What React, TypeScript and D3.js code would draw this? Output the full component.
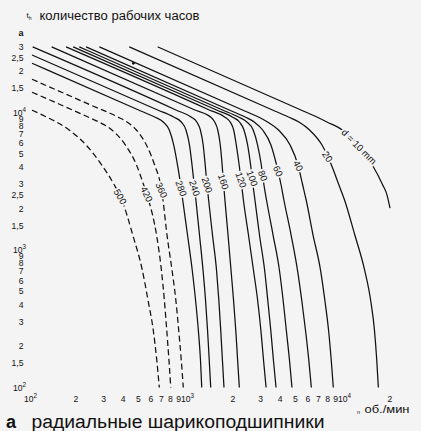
import React from "react";
import * as d3 from "d3";

// bore diameters d (mm)
const DIAMETERS = [10, 20, 40, 60, 80, 100, 120, 160, 200, 240, 280, 360, 420, 500];
const DASHED_D = [360, 420, 500];

// hours levels at which the speed of every curve was read (after the start point)
const LIFE_LEVELS = [9270, 8530, 7460, 5800, 4150, 2970, 2310, 1285, 715, 433, 262, 158, 100];
// first point of every curve (hours)
const START_LIFE = [30000, 30000, 30000, 30000, 30000, 30000, 30000, 30000, 30000, 26200, 22800, 17440, 14030, 10400];
// one more point read on the straight upper part of each curve (speed, hours); 0 = none
const STRAIGHT_SPEED = [5420, 3570, 2300, 1893, 1716, 1571, 1412, 1144, 866, 662, 501, 248, 161, 0];
const STRAIGHT_LIFE = [10430, 10430, 10430, 10430, 10430, 10430, 10430, 10430, 10430, 10430, 10430, 11340, 11340, 0];

// d = 10 is cut by the right border, its own levels
const LIFE_D10 = [30000, 9270, 8530, 7460, 5800, 4150, 2970, 2510, 2020];
const SPEED_D10 = [663, 6840, 7930, 9930, 12460, 15430, 17980, 19150, 20000];

// speeds n (1/min): start, then one per LIFE_LEVELS entry
const SPEED_D20 = [437, 4510, 5260, 6150, 7380, 8470, 9460, 10270, 11940, 13790, 15050, 15920, 16470, 16860];
const SPEED_D40 = [282, 2905, 3320, 3900, 4620, 5190, 5560, 5850, 6470, 7220, 7690, 8120, 8450, 8710];
const SPEED_D60 = [232, 2390, 2730, 3090, 3490, 3790, 4050, 4220, 4690, 5150, 5480, 5790, 6080, 6310];
const SPEED_D80 = [210, 2170, 2450, 2690, 2870, 3030, 3150, 3270, 3600, 3950, 4170, 4370, 4580, 4750];
const SPEED_D100 = [192, 1980, 2200, 2350, 2480, 2590, 2680, 2760, 2950, 3180, 3330, 3480, 3620, 3760];
const SPEED_D120 = [173, 1770, 1920, 2020, 2100, 2190, 2270, 2330, 2510, 2700, 2870, 3010, 3130, 3250];
const SPEED_D160 = [140, 1440, 1530, 1600, 1660, 1706, 1744, 1777, 1860, 1943, 2016, 2083, 2141, 2195];
const SPEED_D200 = [106, 1082, 1177, 1240, 1292, 1331, 1367, 1399, 1481, 1571, 1625, 1671, 1713, 1753];
const SPEED_D240 = [105, 837, 937, 1004, 1057, 1097, 1133, 1161, 1224, 1289, 1337, 1377, 1412, 1443];
const SPEED_D280 = [105, 634, 719, 786, 839, 887, 929, 957, 1027, 1100, 1155, 1203, 1242, 1265];
const SPEED_D360 = [105, 370, 423, 485, 562, 634, 692, 716, 760, 818, 865, 902, 937, 965];
const SPEED_D420 = [105, 239, 280, 339, 413, 486, 540, 580, 652, 700, 731, 757, 782, 803];
const SPEED_D500 = [105, 130, 150, 181, 232, 292, 351, 392, 460, 529, 575, 621, 654, 679];

// hours at which each curve label sits
const LABEL_LIFE = [5640, 4770, 4100, 3750, 3470, 3320, 3230, 3140, 2970, 2820, 2810, 2730, 2550, 2440];

// stray dot on the d = 40 line
const DOT_SPEED = [464];
const DOT_LIFE = [22800];

const X_TICKS = [100, 200, 300, 400, 500, 600, 700, 800, 900, 1000, 2000, 3000, 4000, 5000, 6000, 7000, 8000, 9000, 10000, 20000];
const X_TICK_LABELS = ["10|2", "2", "3", "4", "5", "6", "7", "8", "9", "10|3", "2", "3", "4", "5", "6", "7", "8", "9", "10|4", "2"];
const Y_TICKS = [100, 150, 200, 300, 400, 500, 600, 700, 800, 900, 1000, 1500, 2000, 2500, 3000, 4000, 5000, 6000, 7000, 8000, 9000, 10000, 15000, 20000, 25000, 30000];
const Y_TICK_LABELS = ["10|2", "1,5", "2", "3", "4", "5", "6", "7", "8", "9", "10|3", "1,5", "2", "2,5", "3", "4", "5", "6", "7", "8", "9", "10|4", "1,5", "2", "2,5", "3"];

const SPEEDS = [SPEED_D10, SPEED_D20, SPEED_D40, SPEED_D60, SPEED_D80, SPEED_D100, SPEED_D120, SPEED_D160, SPEED_D200, SPEED_D240, SPEED_D280, SPEED_D360, SPEED_D420, SPEED_D500];

// styles
const BG = "#f4f4f4";
const INK = "#111";
const FONT = "'Liberation Sans', Arial, Helvetica, sans-serif";
const LABEL_ROT = [45, 57, 63, 66, 68, 70, 71, 72, 72, 72, 70, 66, 64, 60];

function renderPow(lbl: string) {
  const [base, exp] = lbl.split("|");
  return (
    <>
      <tspan>{base}</tspan>
      <tspan dy={-3.6} fontSize={6.3}>{exp}</tspan>
    </>
  );
}

export default function App() {
  const x = d3.scaleLog().domain([100, 20000]).range([28.7, 390]);
  const y = d3.scaleLog().domain([100, 30000]).range([387.5, 46.9]);

  const curves = DIAMETERS.map((d, i) => {
    let pts: [number, number][];
    if (i === 0) {
      pts = SPEED_D10.map((n, k) => [n, LIFE_D10[k]] as [number, number]);
    } else {
      const lifes = [START_LIFE[i], ...LIFE_LEVELS];
      pts = SPEEDS[i].map((n, k) => [n, lifes[k]] as [number, number]);
    }
    if (STRAIGHT_SPEED[i] > 0) {
      pts.splice(1, 0, [STRAIGHT_SPEED[i], STRAIGHT_LIFE[i]]);
    }
    return { d, pts, dashed: DASHED_D.includes(d) };
  });

  const line = d3
    .line<[number, number]>()
    .x((p) => x(p[0]))
    .y((p) => y(p[1]))
    .curve(d3.curveMonotoneX);

  const labels = curves.map((c, i) => {
    const ty = y(LABEL_LIFE[i]);
    const px = c.pts.map((p) => [x(p[0]), y(p[1])]);
    let lx = px[0][0];
    for (let k = 0; k < px.length - 1; k++) {
      const a = px[k], b = px[k + 1];
      if (ty >= a[1] && ty <= b[1]) {
        const t = (ty - a[1]) / (b[1] - a[1] || 1);
        lx = a[0] + t * (b[0] - a[0]);
        break;
      }
    }
    return { x: lx, y: ty, text: i === 0 ? "d = 10 mm" : String(c.d), rot: LABEL_ROT[i] };
  });

  return (
    <svg
      width={421}
      height={431}
      style={{ position: "absolute", left: 0, top: 0, display: "block" }}
      fontFamily={FONT}
    >
      <rect x={0} y={0} width={421} height={431} fill={BG} />

      {/* title */}
      <text x={26.5} y={18} fontSize={8} fill={INK}>
        t<tspan fontSize={5} dy={1.5}>h</tspan>
      </text>
      <text x={39.5} y={20} fontSize={12} fill={INK} textLength={160} lengthAdjust="spacingAndGlyphs">
        количество рабочих часов
      </text>
      <text x={23.5} y={35.5} fontSize={9} fontWeight="bold" textAnchor="end" fill={INK}>
        a
      </text>

      {/* y tick labels */}
      {Y_TICKS.map((v, i) => {
        const lbl = Y_TICK_LABELS[i];
        const pow = lbl.includes("|");
        return (
          <text
            key={"y" + i}
            x={pow ? 26 : 23.5}
            y={y(v)}
            dy="0.35em"
            fontSize={8.6}
            textAnchor="end"
            fill={INK}
          >
            {pow ? renderPow(lbl) : lbl}
          </text>
        );
      })}

      {/* x tick labels */}
      {X_TICKS.map((v, i) => {
        const lbl = X_TICK_LABELS[i];
        const pow = lbl.includes("|");
        return (
          <text
            key={"x" + i}
            x={pow ? x(v) - 4.8 : x(v)}
            y={401.5}
            fontSize={8.6}
            textAnchor={pow ? "start" : "middle"}
            fill={INK}
          >
            {pow ? renderPow(lbl) : lbl}
          </text>
        );
      })}
      <text x={357} y={413.5} fontSize={5.5} fill={INK}>
        n
      </text>
      <text x={364.5} y={413} fontSize={11} fill={INK} textLength={45} lengthAdjust="spacingAndGlyphs">
        об./мин
      </text>

      {/* curves */}
      {curves.map((c) => (
        <path
          key={"c" + c.d}
          d={line(c.pts) || ""}
          fill="none"
          stroke={INK}
          strokeWidth={1.25}
          strokeDasharray={c.dashed ? "6 3.4" : undefined}
        />
      ))}

      {DOT_SPEED.map((n, i) => (
        <circle key={"dot" + i} cx={x(n)} cy={y(DOT_LIFE[i])} r={1.4} fill={INK} />
      ))}

      {/* curve labels */}
      {labels.map((l, i) => (
        <text
          key={"l" + i}
          transform={`translate(${l.x},${l.y}) rotate(${l.rot})`}
          textAnchor="middle"
          dy="0.35em"
          fontSize={9.5}
          fill={INK}
          stroke={BG}
          strokeWidth={3.5}
          paintOrder="stroke"
        >
          {l.text}
        </text>
      ))}

      {/* caption */}
      <text x={6} y={427.5} fontSize={18} fontWeight="bold" fill={INK}>
        a
      </text>
      <text x={31.5} y={427.5} fontSize={18} fill={INK} textLength={293} lengthAdjust="spacingAndGlyphs">
        радиальные шарикоподшипники
      </text>
    </svg>
  );
}
